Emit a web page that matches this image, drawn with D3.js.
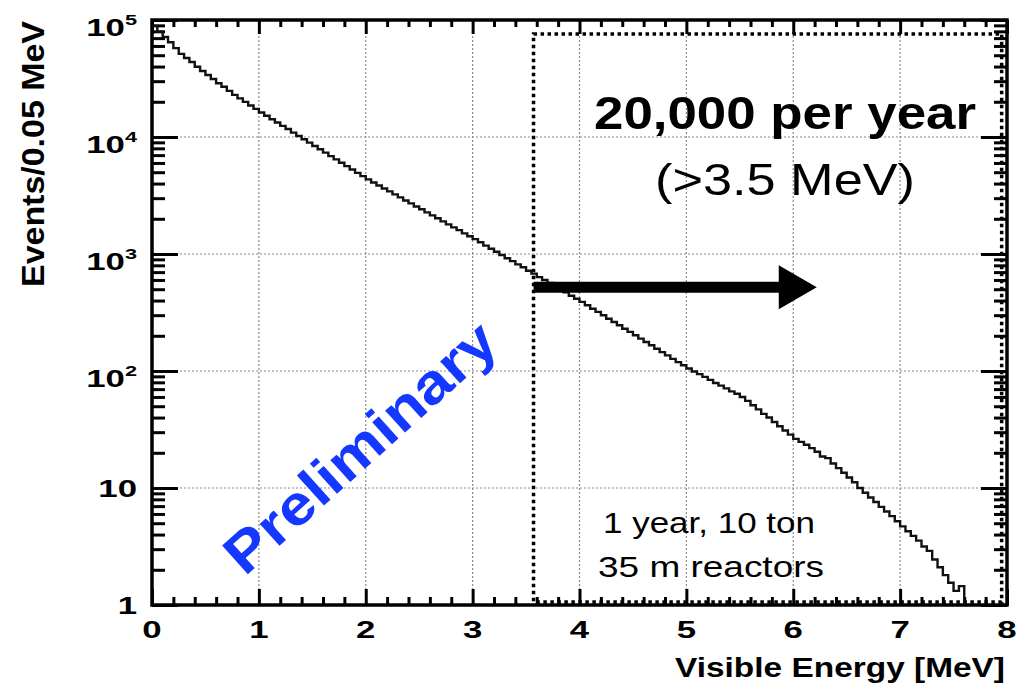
<!DOCTYPE html>
<html>
<head>
<meta charset="utf-8">
<script src="https://cdn.jsdelivr.net/npm/d3@7"></script>
<style>
  body { margin: 0; background: #fff; }
  svg { display: block; }
  text { font-family: "Liberation Sans", Arial, Helvetica, sans-serif; }
  .tick text { display: none; }
</style>
</head>
<body>
<svg id="Vis" width="1023" height="684"></svg>
<script>
/*
* DATA
*/

// histogram, 0.05 MeV bins starting at 0 MeV (events per bin)
const binWidth = 0.05;
const counts = [
  89100, 79400, 71600, 64600, 57500, 51300, 47300, 43700, 39800, 36700,
  33900, 31300, 28800, 26900, 24800, 22900, 21400, 19950, 18600, 17400,
  16200, 15200, 14200, 13300, 12450, 11700, 10900, 10200, 9570, 8950,
  8380, 7850, 7350, 6870, 6440, 6030, 5640, 5280, 4940, 4630,
  4340, 4080, 3850, 3630, 3430, 3230, 3050, 2870, 2710, 2550,
  2410, 2270, 2140, 2020, 1900, 1790, 1690, 1600, 1500, 1420,
  1340, 1260, 1180, 1110, 1045, 980, 920, 870, 815, 770,
  720, 680, 635, 600, 565, 530, 500, 470, 440, 415,
  390, 365, 340, 320, 300, 280, 262, 246, 230, 216,
  202, 189, 177, 166, 155, 145, 136, 127, 119, 112,
  105, 99, 94, 89, 84, 79, 75, 71, 67, 64,
  60, 55.5, 51, 47, 43, 40, 36.6, 33.7, 31, 28.6,
  26.3, 24.8, 23.4, 21.9, 20.4, 18.6, 18.0, 16.2, 14.8, 13.5,
  12.3, 11.2, 10, 9.1, 8.3, 7.6, 6.9, 6.3, 5.75, 5.2,
  4.7, 4.27, 3.9, 3.55, 3.16, 2.9, 2.45, 2.1, 1.8, 1.55,
  1.32, 1.45
];

const xTickValues = [0, 1, 2, 3, 4, 5, 6, 7, 8];
const xTickLabels = ["0", "1", "2", "3", "4", "5", "6", "7", "8"];
const yTickValues = [1, 10, 100, 1000, 10000, 100000];
const yTickBase = ["1", "10", "10", "10", "10", "10"];
const yTickExp = ["", "", "2", "3", "4", "5"];

const thresholdE = 3.57;     // start of the >3.5 MeV box
const boxEnd = [7.95, 1.06, 76000];
const arrowEnd = 6.22;
const arrowLevel = 520;

const xTitle = "Visible Energy [MeV]";
const yTitle = "Events/0.05 MeV";

/*
* SETUP
*/

const svg = d3.select("svg#Vis");

const x = d3.scaleLinear().domain([0, 8]).range([152, 1007]);
const y = d3.scaleLog().domain([1, 1e5]).range([605, 20]);

const g = {
  grid: svg.append("g"),
  axes: svg.append("g"),
  notes: svg.append("g"),
  curve: svg.append("g"),
  labels: svg.append("g")
};

svg.append("defs").append("clipPath").attr("id", "plotclip")
  .append("rect")
  .attr("x", x(0)).attr("y", y(1e5))
  .attr("width", x(8) - x(0)).attr("height", y(1) - y(1e5));

/*
* GRID
*/

g.grid.selectAll("line.vg")
  .data(xTickValues.slice(1, -1))
  .join("line")
  .attr("x1", d => x(d)).attr("x2", d => x(d))
  .attr("y1", y(1e5)).attr("y2", y(1))
  .attr("stroke", "#8a8a8a").attr("stroke-width", 1.2)
  .attr("stroke-dasharray", "2,2");

g.grid.selectAll("line.hg")
  .data(yTickValues.slice(1, -1))
  .join("line")
  .attr("x1", x(0)).attr("x2", x(8))
  .attr("y1", d => y(d)).attr("y2", d => y(d))
  .attr("stroke", "#8a8a8a").attr("stroke-width", 1.2)
  .attr("stroke-dasharray", "2,2");

/*
* AXES (inward ticks on all four sides)
*/

const minorX = d3.range(0, 8.001, 0.2).filter(v => Math.abs(v - Math.round(v)) > 0.01);
const minorY = [];
[1, 10, 100, 1000, 10000].forEach(dec => {
  for (let k = 2; k <= 9; k++) minorY.push(dec * k);
});

function styleAxis(sel) {
  sel.select(".domain").remove();
  sel.selectAll(".tick line").attr("stroke", "#000").attr("stroke-width", 3);
}

g.axes.append("g").attr("transform", "translate(0," + y(1) + ")")
  .call(d3.axisBottom(x).tickValues(xTickValues).tickSize(-16)).call(styleAxis);
g.axes.append("g").attr("transform", "translate(0," + y(1) + ")")
  .call(d3.axisBottom(x).tickValues(minorX).tickSize(-8)).call(styleAxis);
g.axes.append("g").attr("transform", "translate(0," + y(1e5) + ")")
  .call(d3.axisTop(x).tickValues(xTickValues).tickSize(-14)).call(styleAxis);
g.axes.append("g").attr("transform", "translate(0," + y(1e5) + ")")
  .call(d3.axisTop(x).tickValues(minorX).tickSize(-7)).call(styleAxis);

g.axes.append("g").attr("transform", "translate(" + x(0) + ",0)")
  .call(d3.axisLeft(y).tickValues(yTickValues).tickSize(-26)).call(styleAxis);
g.axes.append("g").attr("transform", "translate(" + x(0) + ",0)")
  .call(d3.axisLeft(y).tickValues(minorY).tickSize(-13)).call(styleAxis);
g.axes.append("g").attr("transform", "translate(" + x(8) + ",0)")
  .call(d3.axisRight(y).tickValues(yTickValues).tickSize(-26)).call(styleAxis);
g.axes.append("g").attr("transform", "translate(" + x(8) + ",0)")
  .call(d3.axisRight(y).tickValues(minorY).tickSize(-13)).call(styleAxis);

g.axes.append("rect")
  .attr("x", x(0)).attr("y", y(1e5))
  .attr("width", x(8) - x(0)).attr("height", y(1) - y(1e5))
  .attr("fill", "none").attr("stroke", "#000").attr("stroke-width", 3.5);

/* Tick labels (wide bold ROOT style) */
g.labels.selectAll("text.xl")
  .data(xTickValues)
  .join("text")
  .attr("transform", d => "translate(" + x(d) + ",638) scale(1.45,1)")
  .attr("text-anchor", "middle")
  .attr("font-size", 24).attr("font-weight", "bold")
  .text((d, i) => xTickLabels[i]);

const yl = g.labels.selectAll("text.yl")
  .data(yTickValues)
  .join("text")
  .attr("transform", (d, i) => "translate(137," + (y(d) + (yTickExp[i] ? 16 : 9)) + ") scale(1.45,1)")
  .attr("text-anchor", "end")
  .attr("font-size", 24).attr("font-weight", "bold");
yl.append("tspan").text((d, i) => yTickBase[i]);
yl.append("tspan")
  .attr("font-size", 15).attr("dy", -11)
  .text((d, i) => yTickExp[i]);

/* Axis titles */
g.labels.append("text")
  .attr("x", 1005).attr("y", 677)
  .attr("text-anchor", "end")
  .attr("font-size", 28).attr("font-weight", "bold")
  .attr("textLength", 330).attr("lengthAdjust", "spacingAndGlyphs")
  .text(xTitle);

g.labels.append("text")
  .attr("transform", "translate(44,154) rotate(-90)")
  .attr("text-anchor", "middle")
  .attr("font-size", 31).attr("font-weight", "bold")
  .attr("textLength", 266).attr("lengthAdjust", "spacingAndGlyphs")
  .text(yTitle);

/*
* SPECTRUM
*/

const pts = counts.map((c, i) => [i * binWidth, c]);
pts.push([counts.length * binWidth, counts[counts.length - 1]]);
pts.push([counts.length * binWidth, 1]);

const line = d3.line()
  .x(d => x(d[0]))
  .y(d => y(d[1]))
  .curve(d3.curveStepAfter);

g.curve.append("path")
  .datum(pts)
  .attr("clip-path", "url(#plotclip)")
  .attr("d", line)
  .attr("fill", "none")
  .attr("stroke", "#111")
  .attr("stroke-width", 2.4);

/*
* ANNOTATIONS
*/

g.notes.append("rect")
  .attr("x", x(thresholdE)).attr("y", y(boxEnd[2]))
  .attr("width", x(boxEnd[0]) - x(thresholdE))
  .attr("height", y(boxEnd[1]) - y(boxEnd[2]))
  .attr("fill", "none").attr("stroke", "#000")
  .attr("stroke-width", 3.5).attr("stroke-dasharray", "3.5,3.5");

const ay = y(arrowLevel);
const headLen = 38;
g.labels.append("line")
  .attr("x1", x(thresholdE)).attr("x2", x(arrowEnd) - headLen + 2)
  .attr("y1", ay).attr("y2", ay)
  .attr("stroke", "#000").attr("stroke-width", 11);
g.labels.append("path")
  .attr("d", "M" + x(arrowEnd) + "," + ay +
    "L" + (x(arrowEnd) - headLen) + "," + (ay - 22) +
    "L" + (x(arrowEnd) - headLen) + "," + (ay + 22) + "Z")
  .attr("fill", "#000");

g.labels.append("text")
  .attr("x", 785).attr("y", 129)
  .attr("text-anchor", "middle")
  .attr("font-size", 46).attr("font-weight", "bold")
  .attr("textLength", 382).attr("lengthAdjust", "spacingAndGlyphs")
  .text("20,000 per year");

g.labels.append("text")
  .attr("x", 785).attr("y", 195)
  .attr("text-anchor", "middle")
  .attr("font-size", 45)
  .attr("textLength", 260).attr("lengthAdjust", "spacingAndGlyphs")
  .text("(>3.5 MeV)");

g.labels.append("text")
  .attr("x", 709).attr("y", 533)
  .attr("text-anchor", "middle")
  .attr("font-size", 29)
  .attr("textLength", 212).attr("lengthAdjust", "spacingAndGlyphs")
  .text("1 year, 10 ton");

g.labels.append("text")
  .attr("x", 711).attr("y", 577)
  .attr("text-anchor", "middle")
  .attr("font-size", 29)
  .attr("textLength", 226).attr("lengthAdjust", "spacingAndGlyphs")
  .text("35 m reactors");

g.labels.append("text")
  .attr("transform", "translate(360,447) rotate(-42)")
  .attr("text-anchor", "middle")
  .attr("dominant-baseline", "central")
  .attr("font-size", 56).attr("font-weight", "bold")
  .attr("fill", "#1438ff")
  .attr("textLength", 345).attr("lengthAdjust", "spacingAndGlyphs")
  .text("Preliminary");
</script>
</body>
</html>
